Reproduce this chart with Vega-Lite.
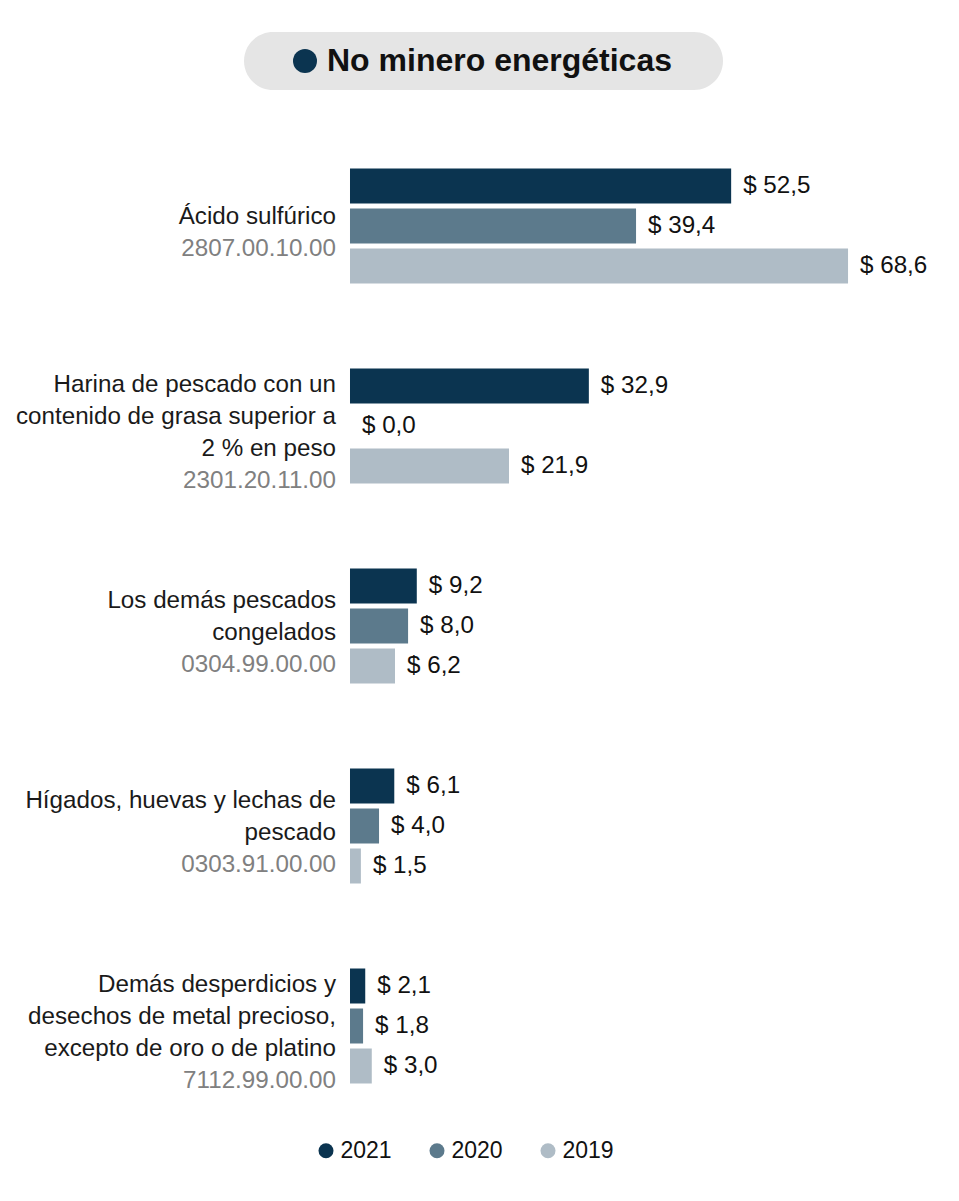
{
  "$schema": "https://vega.github.io/schema/vega-lite/v6.json",
  "padding": {"left": 4, "top": 32, "right": 0, "bottom": 0},
  "background": "white",
  "config": {"font": "Liberation Sans", "view": {"stroke": null}},
  "datasets": {
    "header": [{"title": "No minero energéticas"}],
    "products": [
      {"code": "2807.00.10.00", "name": ["Ácido sulfúrico"]},
      {"code": "2301.20.11.00", "name": ["Harina de pescado con un", "contenido de grasa superior a", "2 % en peso"]},
      {"code": "0304.99.00.00", "name": ["Los demás pescados", "congelados"]},
      {"code": "0303.91.00.00", "name": ["Hígados, huevas y lechas de", "pescado"]},
      {"code": "7112.99.00.00", "name": ["Demás desperdicios y", "desechos de metal precioso,", "excepto de oro o de platino"]}
    ],
    "bars": [
      {"code": "2807.00.10.00", "year": "2021", "value": 52.5},
      {"code": "2807.00.10.00", "year": "2020", "value": 39.4},
      {"code": "2807.00.10.00", "year": "2019", "value": 68.6},
      {"code": "2301.20.11.00", "year": "2021", "value": 32.9},
      {"code": "2301.20.11.00", "year": "2020", "value": 0.0},
      {"code": "2301.20.11.00", "year": "2019", "value": 21.9},
      {"code": "0304.99.00.00", "year": "2021", "value": 9.2},
      {"code": "0304.99.00.00", "year": "2020", "value": 8.0},
      {"code": "0304.99.00.00", "year": "2019", "value": 6.2},
      {"code": "0303.91.00.00", "year": "2021", "value": 6.1},
      {"code": "0303.91.00.00", "year": "2020", "value": 4.0},
      {"code": "0303.91.00.00", "year": "2019", "value": 1.5},
      {"code": "7112.99.00.00", "year": "2021", "value": 2.1},
      {"code": "7112.99.00.00", "year": "2020", "value": 1.8},
      {"code": "7112.99.00.00", "year": "2019", "value": 3.0}
    ]
  },
  "spacing": 36,
  "center": true,
  "resolve": {"scale": {"color": "independent"}, "legend": {"color": "independent"}},
  "vconcat": [
    {
      "width": 479,
      "height": 58,
      "view": {"fill": "#e5e5e5", "cornerRadius": 29, "stroke": null},
      "data": {"name": "header"},
      "layer": [
        {
          "mark": {"type": "circle", "size": 576, "color": "#0b3450", "opacity": 1, "xOffset": -178.5},
          "encoding": {}
        },
        {
          "mark": {"type": "text", "fontSize": 32, "fontWeight": "bold", "color": "#111111", "dx": 16, "align": "center", "baseline": "middle"},
          "encoding": {"text": {"field": "title", "type": "nominal"}}
        }
      ]
    },
    {
      "width": 959,
      "height": 1000,
      "view": {"stroke": null},
      "encoding": {
        "y": {
          "field": "code",
          "type": "nominal",
          "axis": null,
          "scale": {
            "domain": ["2807.00.10.00", "2301.20.11.00", "0304.99.00.00", "0303.91.00.00", "7112.99.00.00"],
            "paddingInner": 0.425,
            "paddingOuter": 0.2125
          }
        }
      },
      "layer": [
        {
          "data": {"name": "bars"},
          "mark": {"type": "bar"},
          "encoding": {
            "x": {"field": "value", "type": "quantitative", "axis": null, "scale": {"domain": [-47.658, 84.435], "nice": false, "zero": false}},
            "yOffset": {"field": "year", "type": "nominal", "scale": {"domain": ["2021", "2020", "2019"], "paddingInner": 0.125, "paddingOuter": 0}},
            "color": {
              "field": "year",
              "type": "nominal",
              "scale": {"domain": ["2021", "2020", "2019"], "range": ["#0b3450", "#5c7a8c", "#afbcc6"]},
              "legend": {
                "orient": "none",
                "legendX": 310.5,
                "legendY": 1013,
                "direction": "horizontal",
                "title": null,
                "symbolType": "circle",
                "symbolSize": 225,
                "symbolStrokeWidth": 0,
                "symbolOpacity": 1,
                "labelFontSize": 23,
                "labelFont": "Liberation Sans",
                "labelColor": "#111111",
                "labelOffset": 3,
                "columnPadding": 33,
                "padding": 0
              }
            }
          }
        },
        {
          "data": {"name": "bars"},
          "transform": [
            {"calculate": "'$ ' + replace(format(datum.value, '.1f'), '.', ',')", "as": "label"}
          ],
          "mark": {"type": "text", "align": "left", "baseline": "middle", "dx": 12, "fontSize": 24.2, "color": "#111111"},
          "encoding": {
            "x": {"field": "value", "type": "quantitative"},
            "yOffset": {"field": "year", "type": "nominal"},
            "text": {"field": "label", "type": "nominal"}
          }
        },
        {
          "data": {"name": "products"},
          "transform": [{"filter": "length(datum.name) == 1"}],
          "mark": {"type": "text", "align": "right", "baseline": "middle", "dx": -14, "dy": -9, "fontSize": 24.2, "lineHeight": 32, "color": "#1a1a1a"},
          "encoding": {"x": {"datum": 0}, "text": {"field": "name", "type": "nominal"}}
        },
        {
          "data": {"name": "products"},
          "transform": [{"filter": "length(datum.name) == 2"}],
          "mark": {"type": "text", "align": "right", "baseline": "middle", "dx": -14, "dy": -25, "fontSize": 24.2, "lineHeight": 32, "color": "#1a1a1a"},
          "encoding": {"x": {"datum": 0}, "text": {"field": "name", "type": "nominal"}}
        },
        {
          "data": {"name": "products"},
          "transform": [{"filter": "length(datum.name) == 3"}],
          "mark": {"type": "text", "align": "right", "baseline": "middle", "dx": -14, "dy": -41, "fontSize": 24.2, "lineHeight": 32, "color": "#1a1a1a"},
          "encoding": {"x": {"datum": 0}, "text": {"field": "name", "type": "nominal"}}
        },
        {
          "data": {"name": "products"},
          "transform": [{"filter": "length(datum.name) == 1"}],
          "mark": {"type": "text", "align": "right", "baseline": "middle", "dx": -14, "dy": 23, "fontSize": 24.2, "color": "#808080"},
          "encoding": {"x": {"datum": 0}, "text": {"field": "code", "type": "nominal"}}
        },
        {
          "data": {"name": "products"},
          "transform": [{"filter": "length(datum.name) == 2"}],
          "mark": {"type": "text", "align": "right", "baseline": "middle", "dx": -14, "dy": 39, "fontSize": 24.2, "color": "#808080"},
          "encoding": {"x": {"datum": 0}, "text": {"field": "code", "type": "nominal"}}
        },
        {
          "data": {"name": "products"},
          "transform": [{"filter": "length(datum.name) == 3"}],
          "mark": {"type": "text", "align": "right", "baseline": "middle", "dx": -14, "dy": 55, "fontSize": 24.2, "color": "#808080"},
          "encoding": {"x": {"datum": 0}, "text": {"field": "code", "type": "nominal"}}
        }
      ]
    }
  ]
}
